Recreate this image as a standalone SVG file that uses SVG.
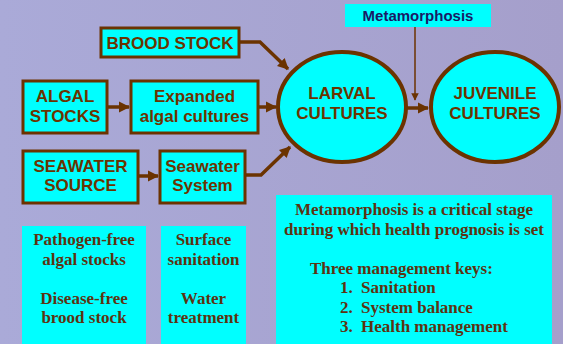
<svg xmlns="http://www.w3.org/2000/svg" width="563" height="344" viewBox="0 0 563 344">
<defs>
<linearGradient id="bg" x1="0" y1="0" x2="1" y2="0">
<stop offset="0" stop-color="#AAAAD8"/>
<stop offset="1" stop-color="#A59FCB"/>
</linearGradient>
<marker id="ah" viewBox="0 0 10 10" refX="9" refY="5" markerWidth="3.2" markerHeight="3.2" orient="auto" markerUnits="strokeWidth">
<path d="M0,0 L10,5 L0,10 Z" fill="#6B3300"/>
</marker>
<marker id="ahs" viewBox="0 0 10 10" refX="9" refY="5" markerWidth="5" markerHeight="6" orient="auto" markerUnits="strokeWidth">
<path d="M0,0 L10,5 L0,10 Z" fill="#6B3300"/>
</marker>
<style>
.box{fill:#00FFFF;stroke:#6B3300;stroke-width:3}
.ell{fill:#00FFFF;stroke:#6B3300;stroke-width:4}
.pane{fill:#00FFFF}
.t{font-family:"Liberation Sans",Arial,sans-serif;font-weight:bold;font-size:17px;fill:#6B3300;text-anchor:middle}
.s{font-family:"Liberation Serif","Times New Roman",serif;font-weight:bold;font-size:17px;fill:#5C3311}
.m{font-family:"Liberation Sans",Arial,sans-serif;font-weight:bold;font-size:15px;fill:#1A1A66;text-anchor:middle}
.c{fill:none;stroke:#6B3300;stroke-width:3.5}
</style>
</defs>
<rect width="563" height="344" fill="url(#bg)"/>
<g id="connectors">
<polyline class="c" points="239,42 260,42 288,69" marker-end="url(#ah)"/>
<line class="c" x1="107" y1="107" x2="129" y2="107" marker-end="url(#ah)"/>
<line class="c" x1="258" y1="107" x2="276" y2="107" marker-end="url(#ah)"/>
<line class="c" x1="138" y1="176" x2="158" y2="176" marker-end="url(#ah)"/>
<polyline class="c" points="245,175 261,175 290,147" marker-end="url(#ah)"/>
<line class="c" x1="407" y1="108" x2="428" y2="108" marker-end="url(#ah)"/>
<line x1="415" y1="27" x2="415" y2="100" stroke="#6B3300" stroke-width="1.5" marker-end="url(#ahs)"/>
</g>
<g id="brood"><rect class="box" x="101" y="28" width="138" height="29"/><text class="t" x="170" y="49">BROOD STOCK</text></g>
<g id="algal"><rect class="box" x="23" y="81" width="84" height="52"/><text class="t" x="65" y="102">ALGAL</text><text class="t" x="65" y="122">STOCKS</text></g>
<g id="expanded"><rect class="box" x="131" y="81" width="127" height="52"/><text class="t" x="194.5" y="102">Expanded</text><text class="t" x="194.5" y="122">algal cultures</text></g>
<g id="seawater-source"><rect class="box" x="23" y="151" width="115" height="52"/><text class="t" x="80.5" y="172">SEAWATER</text><text class="t" x="80.5" y="191">SOURCE</text></g>
<g id="seawater-system"><rect class="box" x="160" y="151" width="85" height="52"/><text class="t" x="202.5" y="172">Seawater</text><text class="t" x="202.5" y="191">System</text></g>
<g id="larval"><ellipse class="ell" cx="342" cy="107" rx="64" ry="55"/><text class="t" x="342" y="99">LARVAL</text><text class="t" x="342" y="119">CULTURES</text></g>
<g id="juvenile"><ellipse class="ell" cx="495" cy="107" rx="64" ry="55"/><text class="t" x="495" y="99">JUVENILE</text><text class="t" x="495" y="119">CULTURES</text></g>
<g id="metamorphosis"><rect class="pane" x="345" y="4" width="146" height="23"/><text class="m" x="418" y="21">Metamorphosis</text></g>
<g id="note-left"><rect class="pane" x="22" y="226" width="124" height="118"/>
<text class="s" x="84" y="245" text-anchor="middle">Pathogen-free</text>
<text class="s" x="84" y="264.5" text-anchor="middle">algal stocks</text>
<text class="s" x="84" y="303.5" text-anchor="middle">Disease-free</text>
<text class="s" x="84" y="323" text-anchor="middle">brood stock</text></g>
<g id="note-mid"><rect class="pane" x="161" y="226" width="85" height="118"/>
<text class="s" x="203.5" y="245" text-anchor="middle">Surface</text>
<text class="s" x="203.5" y="264.5" text-anchor="middle">sanitation</text>
<text class="s" x="203.5" y="303.5" text-anchor="middle">Water</text>
<text class="s" x="203.5" y="323" text-anchor="middle">treatment</text></g>
<g id="note-right"><rect class="pane" x="276" y="195" width="276" height="149"/>
<text class="s" x="414" y="215" text-anchor="middle">Metamorphosis is a critical stage</text>
<text class="s" x="414" y="234.5" text-anchor="middle">during which health prognosis is set</text>
<text class="s" x="310" y="273.5">Three management keys:</text>
<text class="s" x="340" y="293">1.</text><text class="s" x="361" y="293">Sanitation</text>
<text class="s" x="340" y="312.5">2.</text><text class="s" x="361" y="312.5">System balance</text>
<text class="s" x="340" y="332">3.</text><text class="s" x="361" y="332">Health management</text></g>
</svg>
